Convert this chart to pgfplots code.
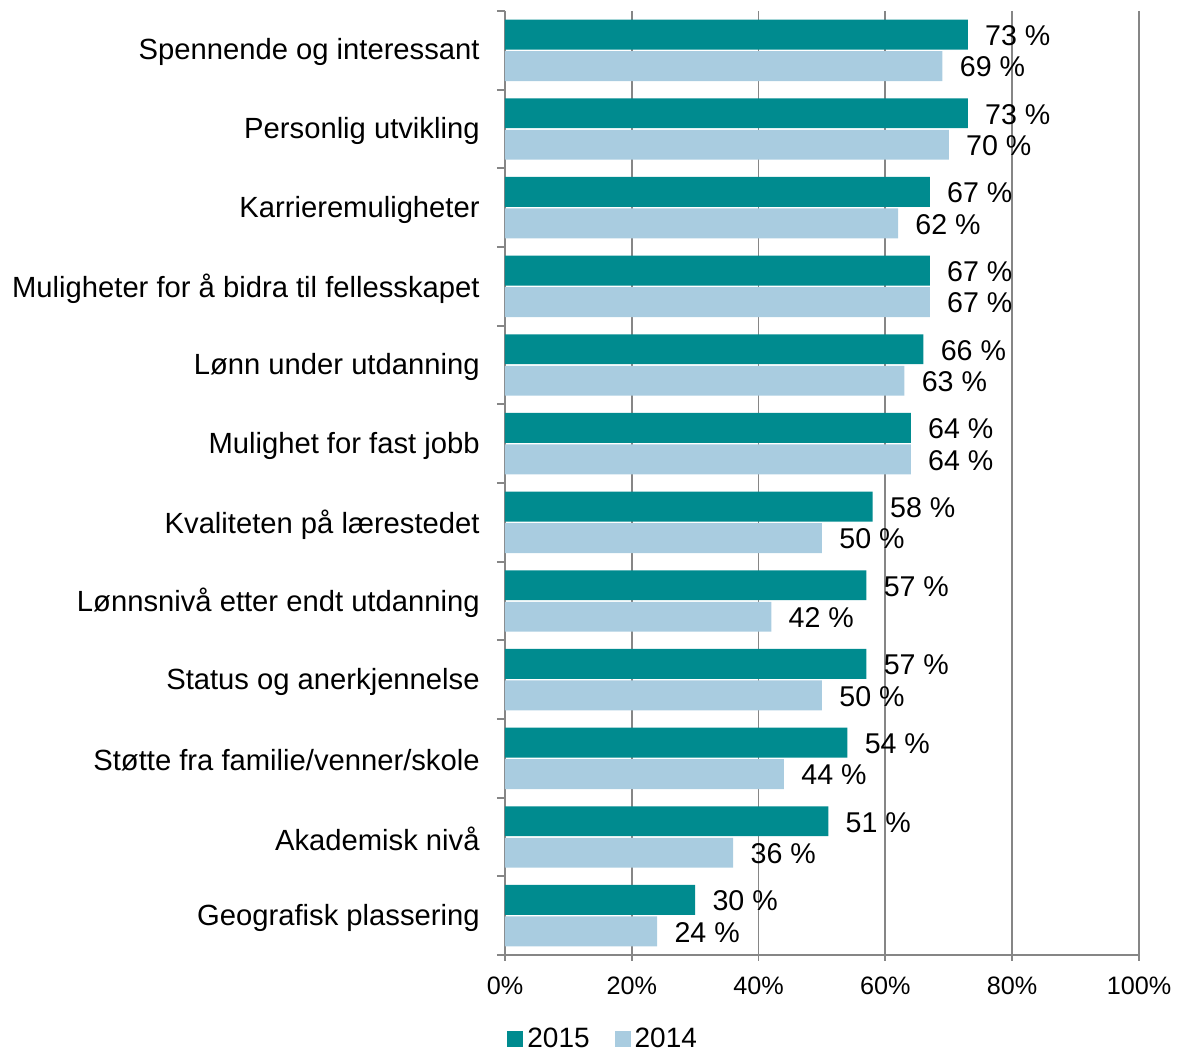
\documentclass[border=0pt]{standalone}
\usepackage{pgfplots}
\pgfplotsset{compat=1.18}
\usepackage{fontspec}
\setmainfont{Liberation Sans}
\definecolor{c15}{RGB}{0,139,143}
\definecolor{c14}{RGB}{169,204,224}
\definecolor{gr}{RGB}{134,134,134}
\begin{document}
\begin{tikzpicture}
\begin{axis}[
 scale only axis, width=317pt, height=472pt,
 /pgf/number format/assume math mode=true,
 xbar, bar width=0.38,
 xmin=0, xmax=100, ymin=-0.5, ymax=11.5, y dir=reverse,
 axis x line*=bottom, axis y line*=left,
 axis line style={gr, line width=0.9pt},
 tick align=outside,
 xtick={0,20,...,100},
 xticklabel={\pgfmathprintnumber{\tick}\%},
 x tick label style={font=\fontsize{12.6}{14}\selectfont, inner sep=0pt, yshift=-8pt},
 major x tick style={gr, line width=0.9pt},
 major tick length=3pt,
 xmajorgrids, grid style={gr, line width=0.9pt},
 ytick={0,...,11},
 yticklabels={Spennende og interessant, Personlig utvikling, Karrieremuligheter, Muligheter for å bidra til fellesskapet, Lønn under utdanning, Mulighet for fast jobb, Kvaliteten på lærestedet, Lønnsnivå etter endt utdanning, Status og anerkjennelse, Støtte fra familie/venner/skole, Akademisk nivå, Geografisk plassering},
 y tick label style={font=\fontsize{14.6}{17}\selectfont, inner sep=0pt, xshift=-9.5pt, yshift=-1pt},
 major y tick style={draw=none},
 minor ytick={-0.5,0.5,...,11.5},
 minor y tick style={gr, line width=0.9pt},
 minor tick length=4pt,
 nodes near coords={\pgfmathprintnumber{\pgfplotspointmeta}~\%},
 every node near coord/.append style={font=\fontsize{14.3}{17}\selectfont, text=black, anchor=west, inner sep=0pt, xshift=8.5pt, yshift=-0.5pt},
 legend style={at={(axis description cs:0,0)}, anchor=west, yshift=-42pt, xshift=-2pt, draw=none, font=\fontsize{14}{17}\selectfont, legend columns=2, /tikz/every even column/.append style={column sep=12.5pt}, nodes={inner sep=0pt}},
 legend image code/.code={\draw[#1,draw=none] (0pt,-4pt) rectangle (8pt,4pt);},
]
\addplot[fill=c15, draw=none, bar shift=-0.2] coordinates {
(73,0) (73,1) (67,2) (67,3) (66,4) (64,5) (58,6) (57,7) (57,8) (54,9) (51,10) (30,11)};
\addlegendentry{\hspace{2pt}2015}
\addplot[fill=c14, draw=none, bar shift=0.2] coordinates {
(69,0) (70,1) (62,2) (67,3) (63,4) (64,5) (50,6) (42,7) (50,8) (44,9) (36,10) (24,11)};
\addlegendentry{\hspace{2pt}2014}
\coordinate (sw) at (axis description cs:0,0);
\end{axis}
\pgfresetboundingbox
\path (sw) ++(-252.5pt,-48.5pt) rectangle ++(590pt,526pt);
\end{tikzpicture}
\end{document}
